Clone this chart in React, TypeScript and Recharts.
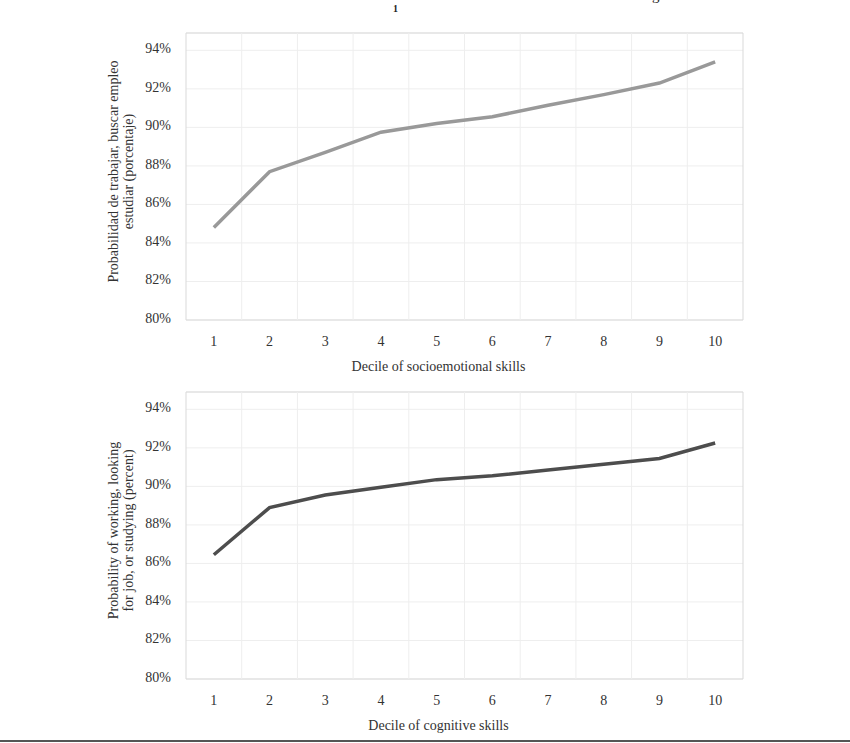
import {
  LineChart,
  Line,
  XAxis,
  YAxis,
  CartesianGrid,
  ReferenceLine,
  ReferenceArea,
} from 'recharts';

const deciles = [1, 2, 3, 4, 5, 6, 7, 8, 9, 10];
const socioValues = [84.8, 87.7, 88.7, 89.75, 90.2, 90.55, 91.15, 91.7, 92.3, 93.4];
const cognitiveValues = [86.45, 88.9, 89.55, 89.95, 90.35, 90.55, 90.85, 91.15, 91.45, 92.25];
const yTicks = [80, 82, 84, 86, 88, 90, 92, 94];
const bandEdges = [1.5, 2.5, 3.5, 4.5, 5.5, 6.5, 7.5, 8.5, 9.5];

const FONT = '"Liberation Serif", "DejaVu Serif", serif';
const TEXT = '#333333';

type PanelProps = {
  values: number[];
  color: string;
  xTitle: string;
  yTitle: string[];
};

const ChartPanel = ({ values, color, xTitle, yTitle }: PanelProps) => {
  const data = deciles.map((d, i) => ({ decile: d, value: values[i] }));

  const yLabel = ({ viewBox }: any) => {
    const cx = viewBox.x + 113;
    const cy = viewBox.y + viewBox.height / 2 - 5;
    return (
      <g>
        {yTitle.map((line, i) => (
          <text
            key={i}
            x={cx + i * 15}
            y={cy}
            transform={`rotate(-90 ${cx + i * 15} ${cy})`}
            textAnchor="middle"
            dominantBaseline="central"
            fill={TEXT}
            fontSize={14}
          >
            {line}
          </text>
        ))}
      </g>
    );
  };

  const xLabel = ({ viewBox }: any) => (
    <text
      x={viewBox.x + viewBox.width / 2 - 26}
      y={viewBox.y + 46}
      textAnchor="middle"
      dominantBaseline="central"
      fill={TEXT}
      fontSize={14}
    >
      {xTitle}
    </text>
  );

  return (
    <LineChart
      width={850}
      height={380}
      data={data}
      margin={{ top: 33, right: 107, bottom: 5, left: 0 }}
    >
      <CartesianGrid vertical={false} stroke="#eeeeee" />
      {bandEdges.map((e) => (
        <ReferenceLine key={e} x={e} stroke="#eeeeee" />
      ))}
      <ReferenceArea
        x1={0.5}
        x2={10.5}
        y1={80}
        y2={94.9}
        fill="none"
        stroke="#d9d9d9"
        strokeWidth={1}
      />
      <XAxis
        type="number"
        dataKey="decile"
        domain={[0.5, 10.5]}
        ticks={deciles}
        axisLine={false}
        tickLine={false}
        tickSize={0}
        tickMargin={16}
        height={55}
        tick={{ fill: TEXT, fontSize: 14 }}
        label={{ content: xLabel }}
      />
      <YAxis
        type="number"
        domain={[80, 94.9]}
        ticks={yTicks}
        allowDataOverflow
        width={186}
        axisLine={false}
        tickLine={false}
        tickSize={0}
        tickMargin={15}
        tickFormatter={(v: number) => `${v}%`}
        tick={{ fill: TEXT, fontSize: 14, dy: -2 }}
        label={{ content: yLabel }}
      />
      <Line
        type="linear"
        dataKey="value"
        stroke={color}
        strokeWidth={3.5}
        dot={false}
        isAnimationActive={false}
      />
    </LineChart>
  );
};

export default function App() {
  return (
    <div
      style={{
        position: 'absolute',
        left: 0,
        top: 0,
        width: 850,
        height: 743,
        background: '#fff',
        fontFamily: FONT,
        overflow: 'hidden',
      }}
    >
      <div
        style={{
          position: 'absolute',
          left: 393,
          top: 3,
          fontSize: 10,
          fontWeight: 'bold',
          color: '#222',
        }}
      >
        1
      </div>
      <div
        style={{
          position: 'absolute',
          left: 652,
          top: -13,
          fontSize: 15,
          color: '#222',
        }}
      >
        g
      </div>
      <div style={{ position: 'absolute', left: 0, top: 0 }}>
        <ChartPanel
          values={socioValues}
          color="#999999"
          xTitle="Decile of socioemotional skills"
          yTitle={['Probabilidad de trabajar, buscar empleo', 'estudiar (porcentaje)']}
        />
      </div>
      <div style={{ position: 'absolute', left: 0, top: 359 }}>
        <ChartPanel
          values={cognitiveValues}
          color="#4d4d4d"
          xTitle="Decile of cognitive skills"
          yTitle={['Probability of working, looking', 'for job, or studying (percent)']}
        />
      </div>
      <div
        style={{
          position: 'absolute',
          left: 0,
          top: 740,
          width: 850,
          height: 2,
          background: '#555',
        }}
      />
    </div>
  );
}
